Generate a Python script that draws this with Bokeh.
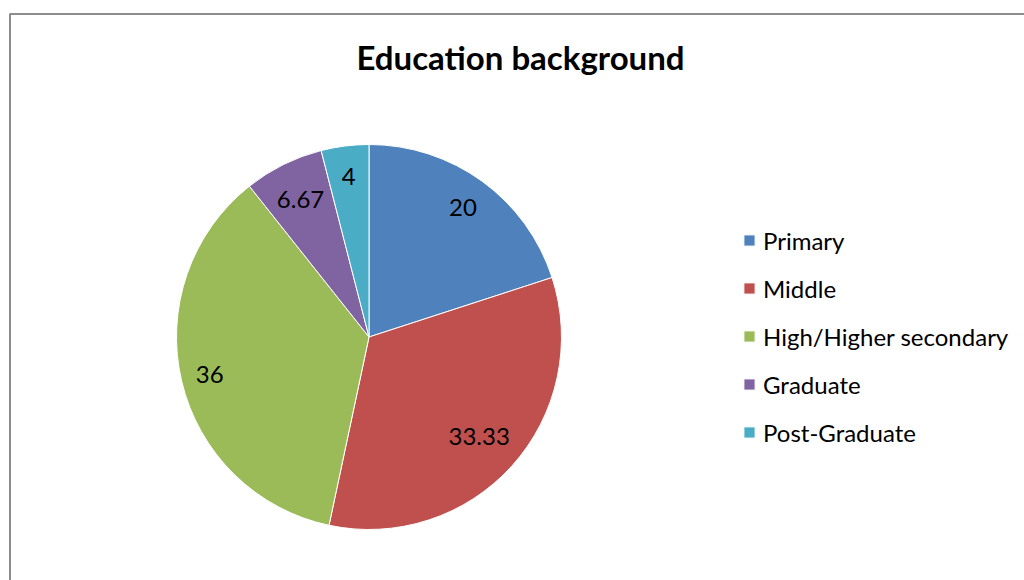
import math
from bokeh.plotting import figure
from bokeh.models import ColumnDataSource, Range1d, Label, Legend, LegendItem
from bokeh.embed import file_html
from bokeh.resources import INLINE

categories = ["Primary", "Middle", "High/Higher secondary", "Graduate", "Post-Graduate"]
values = [20, 33.33, 36, 6.67, 4]
labels = ["20", "33.33", "36", "6.67", "4"]
colors = ["#4F81BD", "#C0504D", "#9BBB59", "#8064A2", "#4BACC6"]
title_text = "Education background"

# radial placement of each data label (fraction of radius)
label_radius = [0.83, 0.77, 0.85, 0.80, 0.84]

W, H = 1024, 580
FONT = "Lato"

p = figure(width=W, height=H, output_backend="svg", toolbar_location=None,
           x_range=Range1d(0, W), y_range=Range1d(0, H),
           min_border=0, tools="")
p.axis.visible = False
p.grid.visible = False
p.outline_line_color = None
p.background_fill_color = "white"
p.border_fill_color = "white"

# chart area border (top & left visible)
p.line(x=[9.5, 9.5, W + 5], y=[-5, H - 13.5, H - 13.5], line_color="#8c8c8c", line_width=2)

cx, cy, r = 368.5, H - 336.5, 192.5
total = sum(values)
starts, ends, lx, ly = [], [], [], []
acc = 0.0
for v, f in zip(values, label_radius):
    a0 = math.pi / 2 - acc / total * 2 * math.pi
    a1 = math.pi / 2 - (acc + v) / total * 2 * math.pi
    mid = (a0 + a1) / 2
    starts.append(a0)
    ends.append(a1)
    lx.append(cx + f * r * math.cos(mid))
    ly.append(cy + f * r * math.sin(mid))
    acc += v

src = ColumnDataSource(dict(category=categories, value=values, label=labels, color=colors,
                            start=starts, end=ends, lx=lx, ly=ly))

wr = p.wedge(x=cx, y=cy, radius=r, start_angle="start", end_angle="end", direction="clock",
             fill_color="color", line_color="white", line_width=1, source=src)

p.text(x="lx", y="ly", text="label", source=src, text_align="center", text_baseline="middle",
       text_font={"value": FONT}, text_font_size="24px", text_color="black")

p.add_layout(Label(x=520, y=H - 56, text=title_text, text_align="center",
                   text_baseline="middle", text_font=FONT, text_font_style="bold",
                   text_font_size="33px", text_color="black"))

legend = Legend(location=(742, 133))
legend.items = [LegendItem(label=categories[i], renderers=[wr], index=i) for i in range(len(categories))]
legend.label_text_font = FONT
legend.label_text_font_size = "24px"
legend.label_text_color = "black"
legend.glyph_width = 14
legend.glyph_height = 14
legend.label_standoff = 7
legend.label_height = 30
legend.spacing = 18
legend.padding = 0
legend.margin = 0
legend.border_line_color = None
legend.background_fill_alpha = 0
p.add_layout(legend, "center")

open("out.html", "w").write(file_html(p, INLINE))
